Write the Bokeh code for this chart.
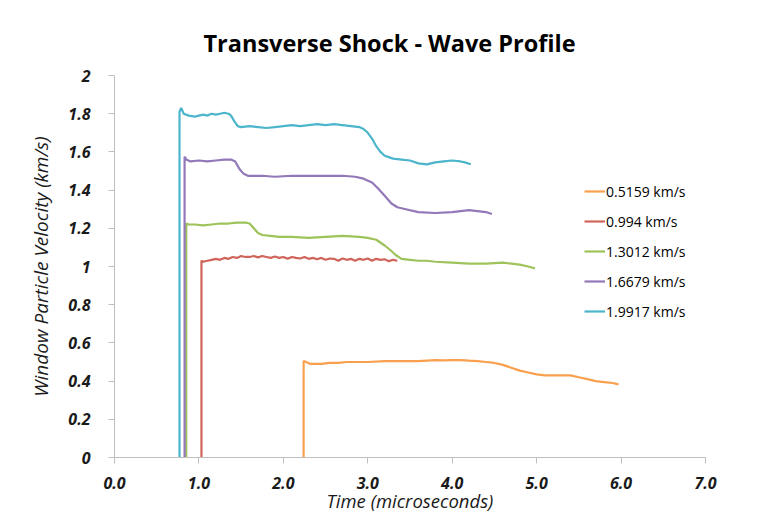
from bokeh.plotting import figure
from bokeh.models import Range1d, FixedTicker, NumeralTickFormatter, Legend, LegendItem
from bokeh.embed import file_html
from bokeh.resources import INLINE

# ---- data (time in microseconds, velocity in km/s) ----
series_names = ["0.5159 km/s", "0.994 km/s", "1.3012 km/s", "1.6679 km/s", "1.9917 km/s"]

t_0516 = [2.24, 2.24, 2.27, 2.32, 2.38, 2.45, 2.55, 2.65, 2.75, 2.85, 3.0, 3.2, 3.4, 3.6, 3.8, 3.9,
          4.0, 4.1, 4.2, 4.3, 4.4, 4.5, 4.6, 4.7, 4.8, 4.9, 5.0, 5.1, 5.2, 5.3, 5.4, 5.5, 5.6, 5.7,
          5.8, 5.9, 5.97]
v_0516 = [0, 0.505, 0.50, 0.49, 0.49, 0.49, 0.495, 0.495, 0.50, 0.50, 0.50, 0.505, 0.505, 0.505,
          0.51, 0.508, 0.51, 0.51, 0.507, 0.505, 0.50, 0.495, 0.485, 0.47, 0.455, 0.445, 0.435,
          0.43, 0.43, 0.43, 0.43, 0.42, 0.41, 0.40, 0.395, 0.39, 0.383]

t_0994 = [1.03, 1.03, 1.05, 1.1, 1.15, 1.2, 1.25, 1.3, 1.35, 1.4, 1.45, 1.5, 1.55, 1.6, 1.65, 1.7,
          1.75, 1.8, 1.85, 1.9, 1.95, 2.0, 2.05, 2.1, 2.15, 2.2, 2.25, 2.3, 2.35, 2.4, 2.45, 2.5,
          2.55, 2.6, 2.65, 2.7, 2.75, 2.8, 2.85, 2.9, 2.95, 3.0, 3.05, 3.1, 3.15, 3.2, 3.25, 3.3, 3.35]
v_0994 = [0, 1.03, 1.025, 1.03, 1.035, 1.04, 1.035, 1.045, 1.04, 1.05, 1.045, 1.055, 1.05, 1.05,
          1.055, 1.048, 1.055, 1.05, 1.045, 1.052, 1.045, 1.05, 1.04, 1.05, 1.045, 1.042, 1.05,
          1.04, 1.045, 1.038, 1.045, 1.035, 1.042, 1.04, 1.03, 1.042, 1.035, 1.04, 1.03, 1.04,
          1.035, 1.042, 1.03, 1.04, 1.035, 1.038, 1.028, 1.035, 1.03]

t_1301 = [0.85, 0.85, 0.88, 0.95, 1.05, 1.15, 1.25, 1.35, 1.45, 1.55, 1.6, 1.65, 1.7, 1.75, 1.85,
          1.95, 2.1, 2.3, 2.5, 2.7, 2.9, 3.0, 3.1, 3.2, 3.27, 3.33, 3.4, 3.5, 3.6, 3.7, 3.8, 4.0,
          4.2, 4.4, 4.6, 4.7, 4.8, 4.9, 4.98]
v_1301 = [0, 1.225, 1.22, 1.22, 1.215, 1.22, 1.225, 1.225, 1.23, 1.23, 1.225, 1.20, 1.175, 1.165,
          1.16, 1.155, 1.155, 1.15, 1.155, 1.16, 1.155, 1.15, 1.14, 1.11, 1.085, 1.06, 1.04, 1.035,
          1.03, 1.03, 1.025, 1.02, 1.015, 1.015, 1.02, 1.015, 1.01, 1.0, 0.99]

t_1668 = [0.83, 0.83, 0.85, 0.9, 1.0, 1.1, 1.2, 1.3, 1.38, 1.43, 1.48, 1.53, 1.58, 1.65, 1.75,
          1.9, 2.1, 2.3, 2.5, 2.7, 2.85, 2.95, 3.05, 3.12, 3.2, 3.28, 3.35, 3.45, 3.6, 3.8, 4.0,
          4.1, 4.2, 4.3, 4.4, 4.47]
v_1668 = [0, 1.575, 1.56, 1.55, 1.555, 1.55, 1.555, 1.56, 1.56, 1.55, 1.51, 1.485, 1.475, 1.475,
          1.475, 1.47, 1.475, 1.475, 1.475, 1.475, 1.47, 1.46, 1.44, 1.41, 1.37, 1.33, 1.31, 1.30,
          1.285, 1.28, 1.285, 1.29, 1.295, 1.29, 1.285, 1.275]

t_1992 = [0.77, 0.77, 0.79, 0.82, 0.88, 0.95, 1.0, 1.05, 1.1, 1.15, 1.2, 1.25, 1.3, 1.35, 1.38,
          1.42, 1.46, 1.5, 1.6, 1.7, 1.8, 1.9, 2.0, 2.1, 2.2, 2.3, 2.4, 2.5, 2.6, 2.7, 2.8, 2.9,
          2.95, 3.0, 3.05, 3.1, 3.15, 3.2, 3.3, 3.4, 3.5, 3.6, 3.7, 3.8, 3.9, 4.0, 4.1, 4.15, 4.22]
v_1992 = [0, 1.81, 1.83, 1.80, 1.79, 1.785, 1.79, 1.795, 1.79, 1.80, 1.795, 1.80, 1.805, 1.80,
          1.79, 1.76, 1.735, 1.73, 1.735, 1.73, 1.725, 1.73, 1.735, 1.74, 1.735, 1.74, 1.745, 1.74,
          1.745, 1.74, 1.735, 1.73, 1.72, 1.70, 1.67, 1.63, 1.60, 1.58, 1.565, 1.56, 1.555, 1.54,
          1.535, 1.545, 1.55, 1.555, 1.55, 1.545, 1.535]

x_ticks = [0, 1, 2, 3, 4, 5, 6, 7]
y_ticks = [0, 0.2, 0.4, 0.6, 0.8, 1.0, 1.2, 1.4, 1.6, 1.8, 2.0]

colors = ["#F9A04E", "#D0645A", "#9DC35A", "#9278B8", "#4BB5CB"]
xs = [t_0516, t_0994, t_1301, t_1668, t_1992]
ys = [v_0516, v_0994, v_1301, v_1668, v_1992]

FONT = "Open Sans"

p = figure(width=755, height=515, output_backend="svg", toolbar_location=None,
           x_range=Range1d(0, 7), y_range=Range1d(0, 2),
           min_border_left=114, min_border_right=50, min_border_top=75, min_border_bottom=58)

p.title.text = "Transverse Shock - Wave Profile"
p.title.text_font = FONT
p.title.text_font_size = "23.5px"
p.title.text_font_style = "bold"
p.title.text_color = "#000000"
p.title.align = "left"
p.title.offset = 89
p.title.standoff = 34

p.grid.visible = False
p.outline_line_color = None
p.background_fill_color = "white"
p.border_fill_color = "white"

for ax in (p.xaxis[0], p.yaxis[0]):
    ax.axis_line_color = "#BFBFBF"
    ax.major_tick_line_color = "#BFBFBF"
    ax.minor_tick_line_color = None
    ax.major_tick_out = 6
    ax.major_tick_in = 0
    ax.major_label_text_font = FONT
    ax.major_label_text_font_size = "16px"
    ax.major_label_text_font_style = "bold italic"
    ax.major_label_text_color = "#1a1a1a"
    ax.axis_label_text_font = FONT
    ax.axis_label_text_font_size = "18.5px"
    ax.axis_label_text_font_style = "italic"
    ax.axis_label_text_color = "#1a1a1a"

p.xaxis[0].ticker = FixedTicker(ticks=x_ticks)
p.xaxis[0].formatter = NumeralTickFormatter(format="0.0")
p.xaxis[0].axis_label = "Time (microseconds)"
p.xaxis[0].major_label_standoff = 13
p.xaxis[0].axis_label_standoff = -4

p.yaxis[0].ticker = FixedTicker(ticks=y_ticks)
p.yaxis[0].formatter = NumeralTickFormatter(format="0.[0]")
p.yaxis[0].axis_label = "Window Particle Velocity (km/s)"
p.yaxis[0].axis_label_text_font_size = "19px"
p.yaxis[0].major_label_standoff = 18
p.yaxis[0].axis_label_standoff = 11

items = []
for name, x, y, c in zip(series_names, xs, ys, colors):
    r = p.line(x, y, line_color=c, line_width=2.2)
    items.append(LegendItem(label=name, renderers=[r]))

legend = Legend(items=items, location=(470, 136))
legend.background_fill_alpha = 0
legend.border_line_color = None
legend.label_text_font = FONT
legend.label_text_font_size = "14px"
legend.label_text_color = "#000000"
legend.glyph_width = 21
legend.glyph_height = 20
legend.label_height = 20
legend.label_standoff = 1
legend.spacing = 10
legend.padding = 0
legend.margin = 0
p.add_layout(legend)

open("out.html", "w").write(file_html(p, INLINE))
